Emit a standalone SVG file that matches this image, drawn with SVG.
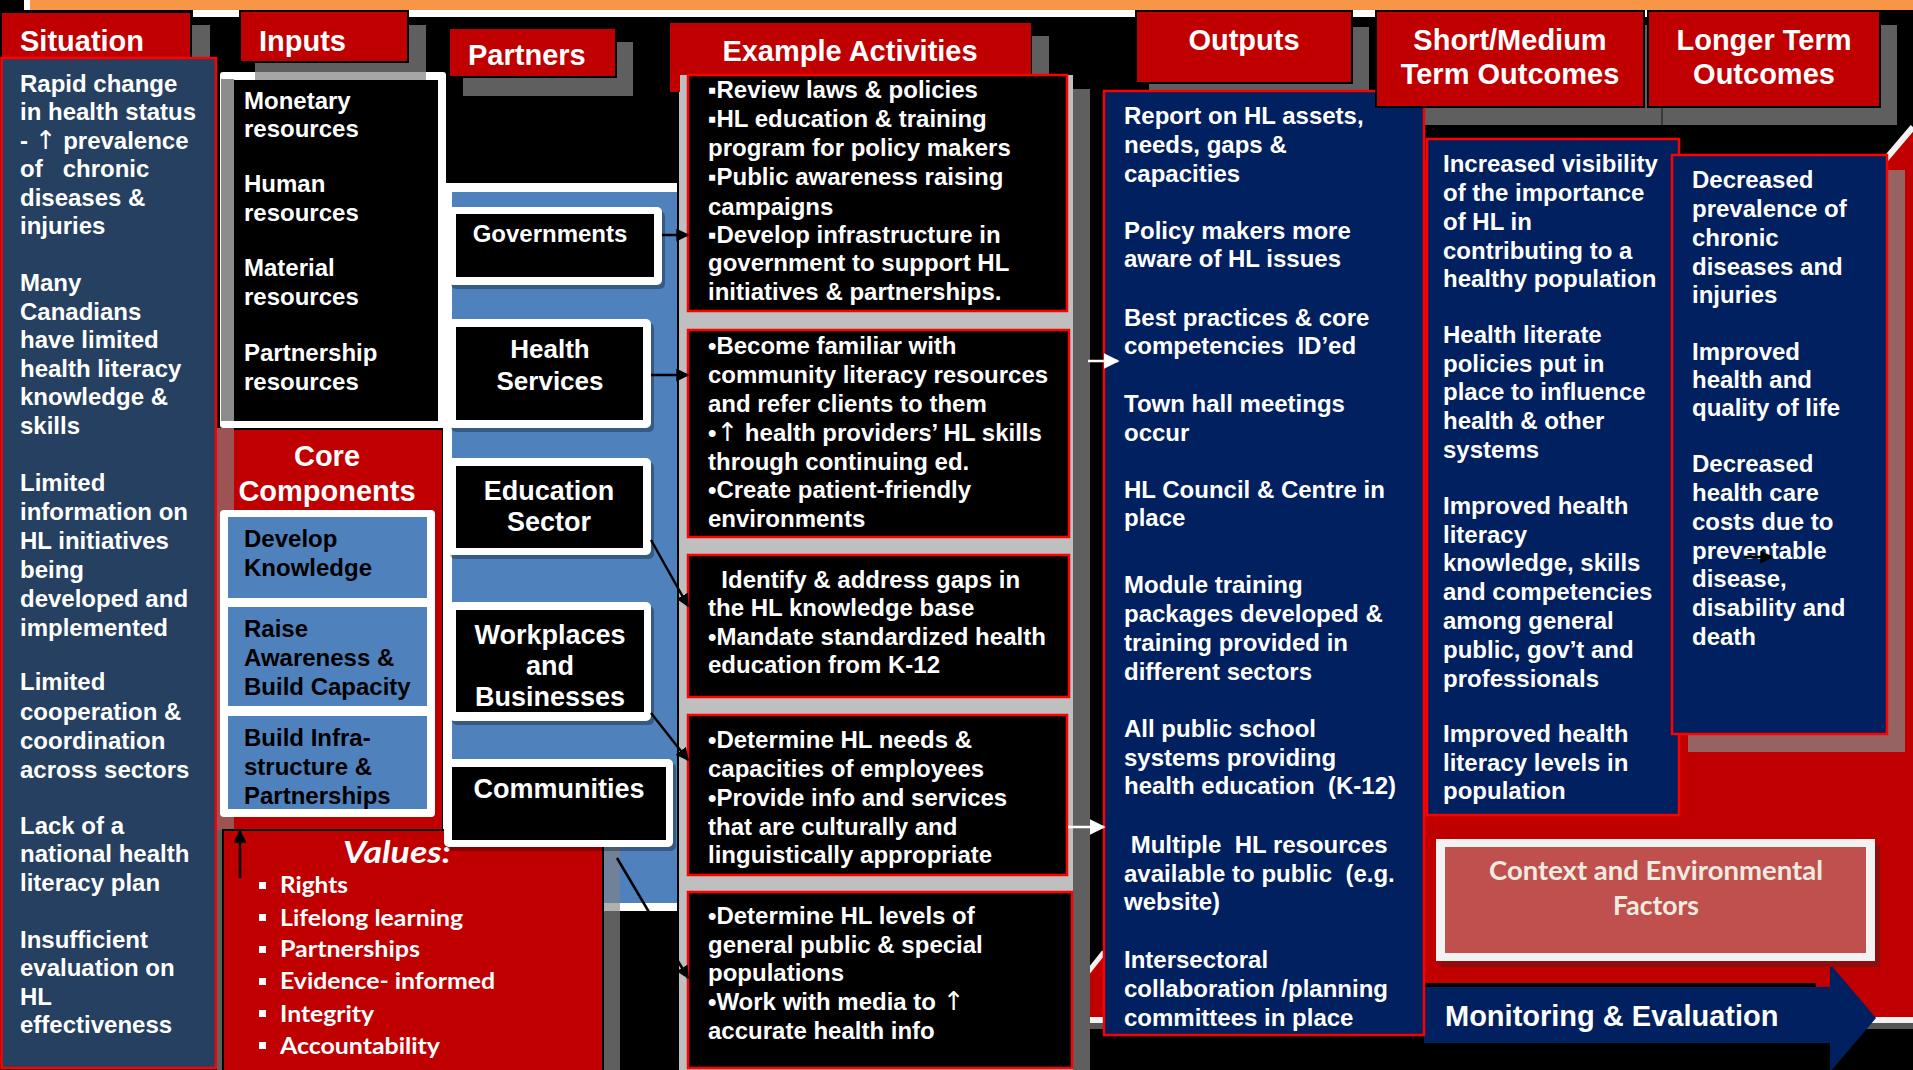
<svg xmlns="http://www.w3.org/2000/svg" width="1913" height="1070" viewBox="0 0 1913 1070">
<defs>
<style>
text{font-family:"Liberation Sans",Arial,Helvetica,sans-serif;font-weight:bold;fill:#fff;font-size:24px;white-space:pre}
.h{font-size:29px}
.m{text-anchor:middle}
.p{font-size:27px}
.k{fill:#000}
.ar{font-family:"DejaVu Sans",sans-serif;font-weight:normal;font-size:26px}
.cal{font-family:Lato,"Open Sans","Liberation Sans",sans-serif}
.hdr{fill:#C00000;stroke:#000;stroke-width:2}
.sh{fill:#5F5F5F}
.act{fill:#000;stroke:#FF0000;stroke-width:2.5}
.nav{fill:#002060;stroke:#FF0000;stroke-width:2.5}
.wf{fill:#fff}
.bk{fill:#000}
.blue{fill:#4F81BD}
.psh{fill:#000;opacity:.3}
.con{stroke:#000;stroke-width:2.5;fill:none}
.conw{stroke:#fff;stroke-width:2.5;fill:none}
</style>
<marker id="ab" viewBox="0 0 10 10" refX="9" refY="5" markerWidth="13" markerHeight="13" markerUnits="userSpaceOnUse" orient="auto"><path d="M0,0 L10,5 L0,10 z" fill="#000"/></marker>
<marker id="aw" viewBox="0 0 10 10" refX="9" refY="5" markerWidth="16" markerHeight="16" markerUnits="userSpaceOnUse" orient="auto"><path d="M0,0 L10,5 L0,10 z" fill="#fff"/></marker>
</defs>

<rect x="0" y="0" width="1913" height="1070" fill="#000"/>
<g id="topbar">
<rect x="24" y="0" width="6" height="10" fill="#fff"/>
<rect x="30" y="0" width="1883" height="10" fill="#F79646"/>
<rect x="193" y="10" width="1687" height="7" fill="#fff"/>
</g>

<g id="background-outcomes">
<path d="M1073,1020 L1073,991 L1104,952 L1104,160 L1885,160 L1913,127 L1913,1020 Z" fill="#C00000"/>
<line x1="1073" y1="991" x2="1104" y2="952" stroke="#F2F2F2" stroke-width="5"/>
<line x1="1885" y1="160" x2="1913" y2="127" stroke="#F2F2F2" stroke-width="6"/>
<rect x="1073" y="1017" width="840" height="6" fill="#F2F2F2"/>
<rect x="1073" y="1023" width="840" height="6" fill="#555"/>
</g>

<g id="header-shadows">
<rect class="sh" x="180" y="25" width="30" height="47"/>
<rect class="sh" x="255" y="25" width="171" height="55"/>
<rect class="sh" x="463" y="42" width="170" height="54"/>
<rect class="sh" x="1032" y="36" width="17" height="45"/>
<rect class="sh" x="1149" y="27" width="220" height="64"/>
<rect class="sh" x="1390" y="25" width="507" height="100"/>
<line x1="1662" y1="107" x2="1662" y2="125" stroke="#3a3a3a" stroke-width="2"/>
</g>

<g id="situation">
<rect class="hdr" x="1" y="12" width="190" height="46"/>
<text class="h" x="20" y="51">Situation</text>
<rect x="1.5" y="58" width="214.5" height="1010" fill="#254061" stroke="#FF0000" stroke-width="2.5"/>
<text x="20" y="91.5">Rapid change</text>
<text x="20" y="120">in health status</text>
<text x="20" y="148.5">- <tspan class="ar">↑</tspan> prevalence</text>
<text x="20" y="177">of&#160;&#160;&#160;chronic</text>
<text x="20" y="205.5">diseases &amp;</text>
<text x="20" y="234">injuries</text>
<text x="20" y="291">Many</text>
<text x="20" y="319.5">Canadians</text>
<text x="20" y="348">have limited</text>
<text x="20" y="376.5">health literacy</text>
<text x="20" y="405">knowledge &amp;</text>
<text x="20" y="433.5">skills</text>
<text x="20" y="491">Limited</text>
<text x="20" y="520">information on</text>
<text x="20" y="549">HL initiatives</text>
<text x="20" y="578">being</text>
<text x="20" y="607">developed and</text>
<text x="20" y="636">implemented</text>
<text x="20" y="690">Limited</text>
<text x="20" y="719.5">cooperation &amp;</text>
<text x="20" y="748.5">coordination</text>
<text x="20" y="777.5">across sectors</text>
<text x="20" y="834">Lack of a</text>
<text x="20" y="862">national health</text>
<text x="20" y="891">literacy plan</text>
<text x="20" y="948">Insufficient</text>
<text x="20" y="976">evaluation on</text>
<text x="20" y="1004.5">HL</text>
<text x="20" y="1033">effectiveness</text>
</g>

<g id="inputs">
<rect class="hdr" x="240" y="11" width="168" height="51"/>
<text class="h" x="259" y="51">Inputs</text>
<rect class="wf" x="220" y="72" width="226" height="356" rx="3"/>
<rect x="255" y="72" width="171" height="8" fill="#A6A6A6"/>
<rect x="221" y="79" width="13" height="342" fill="#8C8C8C"/>
<rect class="bk" x="234" y="80" width="204" height="341"/>
<text x="244" y="108.5">Monetary</text>
<text x="244" y="137">resources</text>
<text x="244" y="192">Human</text>
<text x="244" y="221">resources</text>
<text x="244" y="276">Material</text>
<text x="244" y="305">resources</text>
<text x="244" y="360.5">Partnership</text>
<text x="244" y="389.5">resources</text>
</g>

<g id="core-components">
<rect x="217" y="428" width="17" height="402" fill="#9B5353"/>
<rect x="217" y="830" width="6" height="240" fill="#5F5F5F"/>
<rect x="234" y="430" width="208" height="400" fill="#C00000"/>
<text class="h m" x="327" y="465.5">Core</text>
<text class="h m" x="327" y="501">Components</text>
<rect class="wf" x="220" y="510" width="215" height="307" rx="4"/>
<rect class="blue" x="228" y="517" width="199" height="81"/>
<rect class="blue" x="228" y="607" width="199" height="99"/>
<rect class="blue" x="228" y="716" width="199" height="93"/>
<text class="k" x="244" y="546.5">Develop</text>
<text class="k" x="244" y="575.5">Knowledge</text>
<text class="k" x="244" y="636.5">Raise</text>
<text class="k" x="244" y="665.5">Awareness &amp;</text>
<text class="k" x="244" y="694.5">Build Capacity</text>
<text class="k" x="244" y="745.5">Build Infra-</text>
<text class="k" x="244" y="774.5">structure &amp;</text>
<text class="k" x="244" y="803.5">Partnerships</text>
</g>

<g id="partners">
<rect class="hdr" x="449" y="28" width="167" height="49"/>
<text class="h" x="468" y="65">Partners</text>
<rect class="wf" x="443" y="183" width="234" height="728"/>
<rect class="blue" x="452" y="192" width="225" height="711"/>
<rect x="603" y="840" width="17" height="63" fill="#6F829A"/>
<rect x="603" y="903" width="17" height="8" fill="#B0B0B0"/>
<rect x="603" y="911" width="17" height="159" fill="#5F5F5F"/>
</g>

<g id="values">
<rect x="223" y="830" width="380" height="245" fill="#C00000" stroke="#000" stroke-width="2"/>
<text class="cal m" x="397" y="863" style="font-size:30px;font-style:italic" textLength="108" lengthAdjust="spacingAndGlyphs">Values:</text>
<rect class="wf" x="259" y="882" width="7" height="7"/>
<rect class="wf" x="259" y="914" width="7" height="7"/>
<rect class="wf" x="259" y="946" width="7" height="7"/>
<rect class="wf" x="259" y="978" width="7" height="7"/>
<rect class="wf" x="259" y="1010" width="7" height="7"/>
<rect class="wf" x="259" y="1042" width="7" height="7"/>
<text class="cal" x="280" y="893" style="font-size:23px" textLength="68" lengthAdjust="spacingAndGlyphs">Rights</text>
<text class="cal" x="280" y="925.5" style="font-size:23px" textLength="183" lengthAdjust="spacingAndGlyphs">Lifelong learning</text>
<text class="cal" x="280" y="957" style="font-size:23px" textLength="140" lengthAdjust="spacingAndGlyphs">Partnerships</text>
<text class="cal" x="280" y="989" style="font-size:23px" textLength="215" lengthAdjust="spacingAndGlyphs">Evidence- informed</text>
<text class="cal" x="280" y="1021.5" style="font-size:23px" textLength="94" lengthAdjust="spacingAndGlyphs">Integrity</text>
<text class="cal" x="280" y="1053.5" style="font-size:23px" textLength="160" lengthAdjust="spacingAndGlyphs">Accountability</text>
</g>

<g id="p-governments">
<rect class="psh" x="451" y="211" width="214" height="78" rx="5"/>
<rect class="wf" x="448" y="207" width="214" height="78" rx="5"/>
<rect class="bk" x="456" y="214" width="198" height="63"/>
<text class="m" x="550" y="242">Governments</text>
</g>
<g id="p-health-services">
<rect class="psh" x="451" y="323" width="203" height="109" rx="5"/>
<rect class="wf" x="448" y="319" width="203" height="109" rx="5"/>
<rect class="bk" x="456" y="327" width="187" height="93"/>
<text class="m" x="550" y="358" style="font-size:26px">Health</text>
<text class="m" x="550" y="390" style="font-size:26px">Services</text>
</g>
<g id="p-education-sector">
<rect class="psh" x="450" y="462" width="204" height="97" rx="5"/>
<rect class="wf" x="447" y="458" width="204" height="97" rx="5"/>
<rect class="bk" x="456" y="466" width="187" height="82"/>
<text class="p m" x="549" y="500">Education</text>
<text class="p m" x="549" y="531">Sector</text>
</g>
<g id="p-workplaces">
<rect class="psh" x="452" y="606" width="202" height="119" rx="5"/>
<rect class="wf" x="449" y="602" width="202" height="119" rx="5"/>
<rect class="bk" x="456" y="610" width="188" height="102"/>
<text class="p m" x="550" y="644">Workplaces</text>
<text class="p m" x="550" y="675">and</text>
<text class="p m" x="550" y="706">Businesses</text>
</g>
<g id="p-communities">
<rect class="psh" x="447" y="763" width="229" height="88" rx="5"/>
<rect class="wf" x="444" y="759" width="229" height="88" rx="5"/>
<rect class="bk" x="452" y="767" width="214" height="73"/>
<text class="p m" x="559" y="798">Communities</text>
</g>

<g id="activities">
<rect x="679" y="75" width="394" height="995" fill="#BFBFBF"/>
<rect class="sh" x="1073" y="89" width="17" height="981"/>
<path d="M670,23 H1031 V75 H680 V92 H670 Z" fill="#C00000"/>
<text class="h m" x="850" y="61">Example Activities</text>
</g>
<g id="a-governments">
<rect class="act" x="688" y="75" width="379" height="236"/>
<text x="708" y="97.5">▪Review laws &amp; policies</text>
<text x="708" y="127">▪HL education &amp; training</text>
<text x="708" y="156">program for policy makers</text>
<text x="708" y="185">▪Public awareness raising</text>
<text x="708" y="214.5">campaigns</text>
<text x="708" y="242.5">▪Develop infrastructure in</text>
<text x="708" y="271">government to support HL</text>
<text x="708" y="299.5">initiatives &amp; partnerships.</text>
</g>
<g id="a-health">
<rect class="act" x="688" y="330" width="381" height="207"/>
<text x="708" y="353.5">•Become familiar with</text>
<text x="708" y="383">community literacy resources</text>
<text x="708" y="412">and refer clients to them</text>
<text x="708" y="440.5">•<tspan class="ar">↑</tspan> health providers’ HL skills</text>
<text x="708" y="469.5">through continuing ed.</text>
<text x="708" y="498">•Create patient-friendly</text>
<text x="708" y="527">environments</text>
</g>
<g id="a-education">
<rect class="act" x="688" y="555" width="381" height="142"/>
<text x="708" y="587.5">&#160;&#160;Identify &amp; address gaps in</text>
<text x="708" y="616">the HL knowledge base</text>
<text x="708" y="645">•Mandate standardized health</text>
<text x="708" y="673">education from K-12</text>
</g>
<g id="a-workplaces">
<rect class="act" x="688" y="715" width="379" height="160"/>
<text x="708" y="747.5">•Determine HL needs &amp;</text>
<text x="708" y="776.5">capacities of employees</text>
<text x="708" y="806">•Provide info and services</text>
<text x="708" y="834.5">that are culturally and</text>
<text x="708" y="862.5">linguistically appropriate</text>
</g>
<g id="a-communities">
<rect class="act" x="688" y="892" width="384" height="176"/>
<text x="708" y="923.5">•Determine HL levels of</text>
<text x="708" y="952.5">general public &amp; special</text>
<text x="708" y="981">populations</text>
<text x="708" y="1009.5">•Work with media to <tspan class="ar">↑</tspan></text>
<text x="708" y="1038.5">accurate health info</text>
</g>

<g id="monitoring-evaluation">
<path d="M1424,987 L1830,987 L1830,964 L1876,1018 L1830,1072 L1830,1043 L1424,1043 Z" fill="#002060"/>
<rect x="1424" y="983" width="392" height="4" fill="#000"/>
<text class="h" x="1445" y="1026">Monitoring &amp; Evaluation</text>
</g>

<g id="outputs">
<rect class="hdr" x="1136" y="11" width="216" height="72"/>
<text class="h m" x="1244" y="50">Outputs</text>
<rect class="nav" x="1104" y="91" width="320" height="944"/>
<text x="1124" y="124">Report on HL assets,</text>
<text x="1124" y="152.5">needs, gaps &amp;</text>
<text x="1124" y="181.5">capacities</text>
<text x="1124" y="239">Policy makers more</text>
<text x="1124" y="267">aware of HL issues</text>
<text x="1124" y="325.5">Best practices &amp; core</text>
<text x="1124" y="354">competencies&#160;&#160;ID’ed</text>
<text x="1124" y="412">Town hall meetings</text>
<text x="1124" y="440.5">occur</text>
<text x="1124" y="498">HL Council &amp; Centre in</text>
<text x="1124" y="526">place</text>
<text x="1124" y="593">Module training</text>
<text x="1124" y="622">packages developed &amp;</text>
<text x="1124" y="651">training provided in</text>
<text x="1124" y="679.5">different sectors</text>
<text x="1124" y="737">All public school</text>
<text x="1124" y="766">systems providing</text>
<text x="1124" y="794">health education&#160;&#160;(K-12)</text>
<text x="1124" y="853">&#160;Multiple&#160;&#160;HL resources</text>
<text x="1124" y="881.5">available to public&#160;&#160;(e.g.</text>
<text x="1124" y="910">website)</text>
<text x="1124" y="968">Intersectoral</text>
<text x="1124" y="997">collaboration /planning</text>
<text x="1124" y="1025.5">committees in place</text>
</g>

<g id="short-medium-outcomes">
<rect class="hdr" x="1376" y="11" width="268" height="96"/>
<text class="h m" x="1510" y="50">Short/Medium</text>
<text class="h m" x="1510" y="84">Term Outcomes</text>
<rect x="1688" y="170" width="217" height="582" fill="#976262"/>
<rect class="nav" x="1427" y="139" width="252" height="676"/>
<text x="1443" y="172">Increased visibility</text>
<text x="1443" y="201">of the importance</text>
<text x="1443" y="229.5">of HL in</text>
<text x="1443" y="258.5">contributing to a</text>
<text x="1443" y="286.5">healthy population</text>
<text x="1443" y="343">Health literate</text>
<text x="1443" y="372">policies put in</text>
<text x="1443" y="400">place to influence</text>
<text x="1443" y="429">health &amp; other</text>
<text x="1443" y="458">systems</text>
<text x="1443" y="513.5">Improved health</text>
<text x="1443" y="542.5">literacy</text>
<text x="1443" y="571">knowledge, skills</text>
<text x="1443" y="600">and competencies</text>
<text x="1443" y="629">among general</text>
<text x="1443" y="657.5">public, gov’t and</text>
<text x="1443" y="686.5">professionals</text>
<text x="1443" y="741.5">Improved health</text>
<text x="1443" y="770.5">literacy levels in</text>
<text x="1443" y="799">population</text>
</g>

<g id="longer-term-outcomes">
<rect class="hdr" x="1648" y="11" width="232" height="96"/>
<text class="h m" x="1764" y="50">Longer Term</text>
<text class="h m" x="1764" y="84">Outcomes</text>
<rect class="nav" x="1672" y="155" width="215" height="579"/>
<text x="1692" y="188">Decreased</text>
<text x="1692" y="217">prevalence of</text>
<text x="1692" y="246">chronic</text>
<text x="1692" y="274.5">diseases and</text>
<text x="1692" y="302.5">injuries</text>
<text x="1692" y="359.5">Improved</text>
<text x="1692" y="388">health and</text>
<text x="1692" y="416">quality of life</text>
<text x="1692" y="472">Decreased</text>
<text x="1692" y="501">health care</text>
<text x="1692" y="529.5">costs due to</text>
<text x="1692" y="558.5">preventable</text>
<text x="1692" y="587">disease,</text>
<text x="1692" y="616">disability and</text>
<text x="1692" y="644.5">death</text>
</g>

<g id="context-factors">
<rect x="1441" y="845" width="439" height="122" fill="#8E0E0E"/>
<rect x="1436" y="839" width="439" height="122" fill="#F2F2F2"/>
<rect x="1445" y="847" width="421" height="106" fill="#C0504D"/>
<text class="cal m" x="1656" y="880" style="font-size:27px;fill:#EEECE1" textLength="334" lengthAdjust="spacingAndGlyphs">Context and Environmental</text>
<text class="cal m" x="1656" y="915" style="font-size:27px;fill:#EEECE1" textLength="86" lengthAdjust="spacingAndGlyphs">Factors</text>
</g>

<g id="connectors">
<line class="con" x1="662" y1="235" x2="688" y2="235" marker-end="url(#ab)"/>
<line class="con" x1="651" y1="375" x2="688" y2="375" marker-end="url(#ab)"/>
<line class="con" x1="651" y1="540" x2="688" y2="606" marker-end="url(#ab)"/>
<line class="con" x1="651" y1="713" x2="688" y2="760" marker-end="url(#ab)"/>
<line class="con" x1="617" y1="858" x2="688" y2="978" marker-end="url(#ab)"/>
<line class="con" x1="240" y1="878" x2="240" y2="831" marker-end="url(#ab)"/>
<line class="conw" x1="1088" y1="361" x2="1118" y2="361" marker-end="url(#aw)"/>
<line class="conw" x1="1068" y1="827" x2="1104" y2="827" marker-end="url(#aw)"/>
<line class="con" x1="1744" y1="557" x2="1772" y2="557" marker-end="url(#ab)"/>
</g>
</svg>
